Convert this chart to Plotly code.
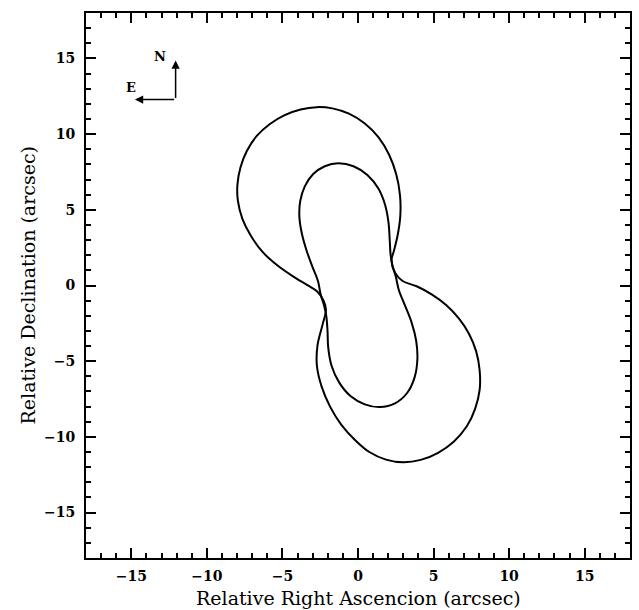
import plotly.graph_objects as go

# Outer critical curve (arcsec), traced clockwise from the top of the upper lobe
outer_x = [-2.75, -1.70, -0.60, 0.45, 1.35, 2.05, 2.53, 2.78, 2.80, 2.62, 2.38, 2.22,
           2.45, 2.95, 3.88, 4.90, 5.85, 6.70, 7.35, 7.82, 8.05, 8.05, 7.75, 7.20, 6.35,
           5.30, 4.15, 3.00, 1.85, 0.75, -0.20, -1.10, -1.85, -2.40, -2.72, -2.68, -2.35,
           -2.12, -2.28, -2.70, -3.35, -4.30, -5.30, -6.30, -7.10, -7.65, -7.95, -7.98,
           -7.78, -7.35, -6.70, -5.85, -4.85, -3.80, -2.75]
outer_y = [11.78, 11.70, 11.35, 10.70, 9.80, 8.65, 7.35, 5.95, 4.60, 3.30, 2.30, 1.68,
           0.85, 0.30, -0.05, -0.60, -1.30, -2.20, -3.20, -4.35, -5.60, -6.90, -8.15, -9.30, -10.30,
           -11.05, -11.52, -11.68, -11.50, -11.00, -10.20, -9.20, -8.00, -6.70, -5.30, -3.95, -2.60,
           -1.60, -1.00, -0.40, 0.02, 0.60, 1.30, 2.20, 3.30, 4.40, 5.60, 6.65,
           7.80, 8.90, 9.88, 10.65, 11.25, 11.62, 11.78]

# Inner critical curve (arcsec), traced clockwise from the top
inner_x = [-1.30, -0.30, 0.62, 1.35, 1.80, 2.02, 2.10, 2.16, 2.28, 2.50, 2.70, 3.10, 3.55,
           3.85, 3.93, 3.75, 3.25, 2.45, 1.45, 0.45, -0.50, -1.25, -1.75, -1.97, -2.02,
           -2.10, -2.25, -2.47, -2.65, -3.02, -3.40, -3.72, -3.88, -3.82, -3.52, -2.98,
           -2.20, -1.30]
inner_y = [8.08, 7.88, 7.30, 6.40, 5.30, 4.15, 3.00, 2.00, 1.30, 0.60, -0.30, -1.30, -2.45,
           -3.65, -4.85, -6.05, -7.10, -7.78, -8.03, -7.85, -7.30, -6.40, -5.30, -4.10, -2.95,
           -2.00, -1.30, -0.60, 0.30, 1.25, 2.30, 3.45, 4.55, 5.60, 6.55, 7.35,
           7.88, 8.08]

# Compass (arcsec)
compass_origin = (-12.07, 12.28)
north_tip = (-12.07, 14.87)
east_tip = (-14.76, 12.28)
north_label = (-13.1, 15.1)
east_label = (-15.0, 13.1)

tick_vals = [-15, -10, -5, 0, 5, 10, 15]
axis_range = [-18, 18]

fig = go.Figure()
for xs, ys in [(outer_x, outer_y), (inner_x, inner_y)]:
    fig.add_trace(go.Scatter(x=xs, y=ys, mode="lines",
                             line=dict(color="black", width=2, shape="spline", smoothing=1.0),
                             showlegend=False, hoverinfo="skip"))

for tip in (north_tip, east_tip):
    fig.add_annotation(x=tip[0], y=tip[1], ax=compass_origin[0], ay=compass_origin[1],
                       xref="x", yref="y", axref="x", ayref="y", text="",
                       showarrow=True, arrowhead=2, arrowsize=1.1, arrowwidth=1.5,
                       arrowcolor="black", standoff=0, startstandoff=0)
for lab, pos in (("N", north_label), ("E", east_label)):
    fig.add_annotation(x=pos[0], y=pos[1], xref="x", yref="y", text=lab, showarrow=False,
                       font=dict(family="DejaVu Serif", size=13, color="black", weight="bold"))

title_font = dict(family="DejaVu Serif", size=19, color="black")
fig.add_annotation(text="Relative Right Ascencion (arcsec)", xref="paper", yref="paper",
                   x=0.5, y=0, xanchor="center", yanchor="middle", yshift=-40,
                   showarrow=False, font=title_font)
fig.add_annotation(text="Relative Declination (arcsec)", xref="paper", yref="paper",
                   x=0, y=0.5, xanchor="center", yanchor="middle", xshift=-59,
                   textangle=-90, showarrow=False, font=title_font)

axis_common = dict(
    range=axis_range, tickvals=tick_vals, ticks="inside", ticklen=10, tickwidth=1.5,
    tickcolor="black", showline=True, linecolor="black", linewidth=2, mirror="allticks",
    showgrid=False, zeroline=False, automargin=False,
    minor=dict(dtick=1, ticks="inside", ticklen=5, tickwidth=1.5, tickcolor="black", showgrid=False),
    tickfont=dict(family="DejaVu Serif", size=14, color="black", weight="bold"),
)

fig.update_layout(
    width=639, height=610,
    margin=dict(l=86, r=9, t=13, b=52),
    paper_bgcolor="white", plot_bgcolor="white",
    xaxis=dict(**axis_common, ticklabelstandoff=4),
    yaxis=dict(**axis_common, ticklabelstandoff=6),
)

fig.write_html("out.html", config={"displayModeBar": False},
               post_script="document.body.style.margin='0';")
